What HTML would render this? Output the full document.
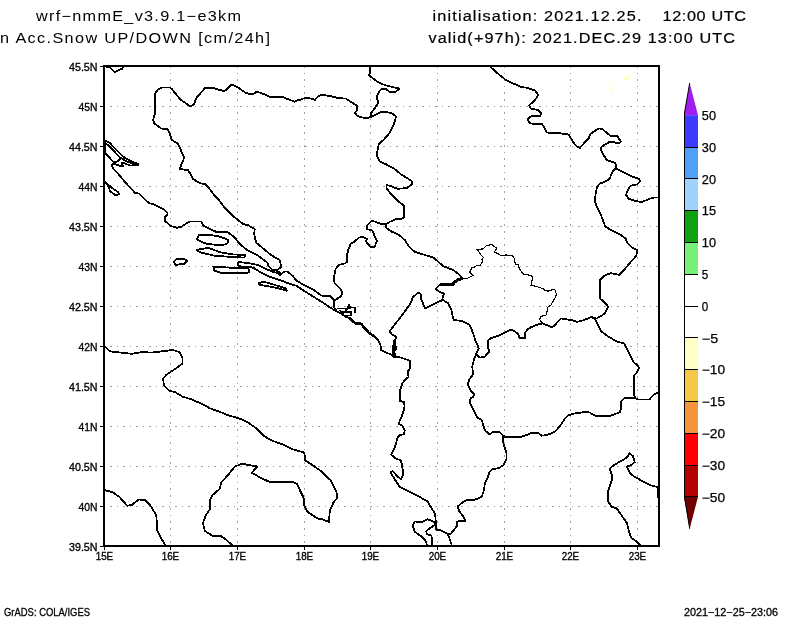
<!DOCTYPE html>
<html><head><meta charset="utf-8">
<style>
html,body{margin:0;padding:0;background:#fff;width:800px;height:618px;overflow:hidden}
svg{position:absolute;left:0;top:0;will-change:transform}
text{font-family:"Liberation Sans",sans-serif;fill:#000}
</style></head><body>
<svg width="800" height="618" viewBox="0 0 800 618">
<rect x="0" y="0" width="800" height="618" fill="#fff"/>
<!-- titles -->
<g id="titles" xml:space="preserve">
<text transform="translate(36,21) scale(1.12,1)" x="0" y="0" font-size="14.5" textLength="183.0" lengthAdjust="spacing">wrf−nmmE_v3.9.1−e3km</text>
<text transform="translate(0,43) scale(1.12,1)" x="0" y="0" font-size="14.5" textLength="241.1" lengthAdjust="spacing">n Acc.Snow UP/DOWN [cm/24h]</text>
<text transform="translate(432.5,21) scale(1.12,1)" x="0" y="0" font-size="14.5" textLength="186.6" lengthAdjust="spacing" stroke="#000" stroke-width="0.2">initialisation: 2021.12.25.</text>
<text transform="translate(662.5,21) scale(1.12,1)" x="0" y="0" font-size="14.5" textLength="74.6" lengthAdjust="spacing" stroke="#000" stroke-width="0.2">12:00 UTC</text>
<text transform="translate(428.5,43) scale(1.12,1)" x="0" y="0" font-size="14.5" textLength="273.7" lengthAdjust="spacing" stroke="#000" stroke-width="0.2">valid(+97h): 2021.DEC.29 13:00 UTC</text>
</g>
<!-- grid -->
<g id="grid" stroke="#a0a0a0" stroke-width="1" fill="none" shape-rendering="crispEdges">
<path stroke-dasharray="1.5 5" d="M110 106.5H658M110 146.5H658M110 186.5H658M110 226.5H658M110 266.5H658M110 306.5H658M110 346.5H658M110 386.5H658M110 426.5H658M110 466.5H658M110 506.5H658"/>
<path stroke-dasharray="1.5 5.1" d="M170.5 66V545M237.5 66V545M304.5 66V545M370.5 66V545M437.5 66V545M504.5 66V545M570.5 66V545M637.5 66V545"/>
</g>
<!-- map -->
<g id="map" stroke="#000" stroke-width="1.8" fill="none" stroke-linejoin="round" stroke-linecap="round" shape-rendering="crispEdges">
<!-- top-left -->
<path d="M104.5 66.2L110.4 67.8L114.9 72.3L118.8 70.1L122 68.8L123.3 66.5"/>
<!-- croatia north border, drina, montenegro -->
<path d="M171.9 140L169.3 132.5L167.4 129.3L160.9 128.4L154.4 123.5L153.1 120.2L154.7 114.4L155 94L157.6 89.8L161.5 87.5L170 87.5L171.9 89.1L180.3 99.5L188.7 105.3L190.7 106L193.9 104.7L196.5 97.6L200 93.9L205.2 87.8L212.3 87.8L218.1 89.5L224.6 91.1L231.7 84.6L237.6 87.2L245.3 92.6L248.6 93.9L253.1 93.9L257 91.7L263.5 93.9L270 96.9L282.3 96.9L288.7 99.5L294.6 101.7L297.8 99.9L300 99.9L305.2 97.8L309.7 98.2L314.9 99.9L318.1 96.3L321.4 94.7L329.8 96L338.9 98.2L346 98.6L349.2 100.8L357 105.6L357 109.9L355.1 112.8L357 115.7L361.5 117.3L367.4 118.3L370.6 117L375.1 115L381.6 111.8L391.3 112.8L395.9 116.3L395.2 120.9L392.6 126.7L389.4 133.2L383.5 140L379 143.6L377.7 148.8L376.8 155.8L379.4 161L385.9 164.2L393.6 168.1L401.4 174.6L411.7 181L411.7 184.3L406.6 188.2L397.5 188.8L391 186.2L386.5 184.9L386.5 188.2L391 194L398.8 201.7L404 205.6L404 217.3L401.4 219.2L397.5 218.6L389.8 221.8L386.2 224L381.7 224L372 220.7L366.8 225.9L366.8 229.1L372 230.4L377.1 240.8L374.6 246.6L370 246.6L366.1 241.5L366.8 238.9L362.9 236.9L359 237.6L354.5 241.5L350.6 244L348 250.5L346.7 257L347.4 261.5L344.8 263.5L338.9 264.8L335.7 268.7L334.4 275.1L333.9 277.8L334.5 283L340.4 288.8L342.3 293.3L341 296.6L335.2 299.8L334 301L334 307L336.1 309.9"/>
<!-- croatia-bosnia south-west border -->
<path d="M171.9 140L172.5 140.4L177.7 143.6L180.3 148.8L184.2 157.8L179.7 168.9L188.1 170.2L192 176.6L193.3 179.2L199.7 183.1L205.2 184.1L209.1 188.3L215.5 196.7L219.4 200.6L223.7 206.5L234 216.8L243.1 224L248.3 225.3L254.8 229.1L254.1 233.7L256.1 242.7L262.5 247.9L271 255L280 260.3L281.1 267L277.8 269.6L274 270.4"/>
<!-- drava top -->
<path d="M370 66.2L370 73L368.7 74.9L372.5 78.1L379 82.7L385.5 85.3L393.3 87.2L399.5 88.5L395.9 91.7L389.4 91.7L385.5 88.8L381.6 88.8L379 91.7L376.4 98.2L377.7 100.2L377.7 104L370.6 113.8L370.6 117"/>
<!-- romania/bulgaria-serbia -->
<path d="M490.7 67.1L500 75.5L505.2 79.4L513 83.3L520.7 86.9L527.2 87.8L535 90.4L538.2 95L535 100.2L529.1 105.3L531.1 108.6L537.6 109.9L541.5 113.1L540.2 115.7L531.1 116.3L527.8 118.9L529.1 122.8L532.4 123.7L541.5 123.7L544 126.7L546.6 132.5L555.7 133.2L559.6 133.2L568.7 134.5L572.5 141L575.8 145.5L579.7 148.1L584.2 143L588.7 138.4L590.4 133.9L594.2 131.3L598.8 128.4L602.7 129.3L610.4 135.8L617.6 136.2L620.8 141.7L618.2 143.6L614.3 142.3L609.8 141.7L601.4 146.8L600.7 148.8L604 155.9L607.2 160.4L614.3 162.4L616.3 165L615.6 168.2L613.7 170.2L611.1 174.7L609.8 178.6L605.9 181.2L599.4 183.8L596.8 187.6L595.5 194.8L594.9 201.2L596.3 205.2L600.2 213L605.3 226.6L611.8 230.4L619.6 234.3L625.4 238.2L627.4 242.7L632.5 247.9L637.1 249.9L636.4 255.7L630 262.8L624.1 270L619.3 274.9L611.2 273.2L605.5 274.9L599.9 279.7L599.9 298.3L606.3 304L608 307.2L604.7 313.7L596.6 318.5L591.8 316.9L595.8 320.2L601.5 331.5L608 336.3L616.1 341.2L624.1 343.6L629 352.5L632.5 360L634.5 363.2L637.7 365.2L639 367.8L636.4 373L633.8 375.5L633.8 393.7L635.1 397.6"/>
<path d="M615.6 168.2L624 172.7L631.8 176.6L638.9 178.6L640.2 181.2L637 184.4L630.5 185.7L628.6 188.3L626 194.8L628.6 198.7L635.7 201.2L642.2 201.9L649.9 198.7L654.5 197.4L658.4 197.4"/>
<!-- macedonia-serbia -->
<path d="M542.8 323.3L550 326.6L553.3 326.6L561 318.5L572.4 320.2L577.2 321.8L583.7 320.2L591.8 316.9"/>
<!-- kosovo-macedonia, ohrid -->
<path d="M542.8 323.3L537.7 324.5L532.5 326.5L527.4 329.1L524.8 333.6L524.8 338.1L519.6 338.1L518.3 334.2L514.4 331L511.2 329.7L505.3 332.3L498.9 335.5L491.1 338.1L487.8 340.7L487.8 345.9L489.1 351.7L484.6 356.9L479.4 357.6L476.8 355"/>
<!-- albania east border -->
<path d="M442.7 299.8L447.8 303L451.1 308.9L453 317.9L453.7 319.9L462.7 321.2L465.2 322.6L469.2 324.4L470.4 326.5L473 333L475.5 340.7L478.8 348.5L476.2 353.7L474.2 358.9L472.3 366.6L473 374.4L469.1 379.6L467.8 384.8L470.4 390L474.2 394.5L473.5 396.7L470.5 398.2L469.7 402L475 412.5L477.2 417.7L481.7 420L485 430.5L489.5 434.2L493.7 431.7L499.7 432L502.7 435L503.5 444L506.5 453L506.5 459L503.5 465L499 468L492.2 469.5L489.2 472.5L488 477L485 483L483.5 492L481.7 496.7L475 499.7L468.2 499.7L463 502L457.7 506.5L459.2 511L463 516.2L465.2 520.7L460 520.7L457 522.2L457 526L451 533.5L448 534.2"/>
<!-- greece-macedonia-bulgaria -->
<path d="M502.7 435L505 437.2L521.5 436.8L529 434.2L532 432.7L538.7 433.2L541.7 435.7L547 435L554.5 432L560 426.1L565.2 418.3L567.8 415.7L573 413.8L579.4 412.8L585.9 411.8L589.8 412.5L593.7 415L596.3 416L610.5 415.7L615.7 413.8L619.6 412.5L620.9 409.2L620.9 401.5L624.8 397.8L634.5 397.8L637.7 399.5L649.4 399.5L653.3 395L657.2 393L659 392.4"/>
<!-- montenegro-albania -->
<path d="M389.6 331.5L394.8 324.4L402.5 314.7L410.3 303.7L412.9 297.2L418.1 292.7L420.7 294L421.3 299.8L425.2 308.2L433 304.3L442 300.4L442.7 299.8"/>
<path d="M389.6 331.5L392.2 334.8L396.6 336.7L395 340"/>
<path stroke-width="1" d="M397 337L395.2 339.7L395.2 343.3L396.3 347L396.3 349.1L394.8 350.6L395.2 354.2L396.3 356.5L393.8 357.4L392.5 354.2L392.5 347L393.6 343.3L394 340.4Z" fill="#000"/>
<!-- montenegro-serbia-kosovo thick -->
<path d="M386.2 224L386.2 227.8L390.7 231.1L399.8 235.6L405 240.2L408.9 246.6L414.7 251.8L423.1 254.4L433.5 257.6L443 265.9L447.5 267.8L452.7 269.8L457.2 273L460.4 275.6L461.7 278.5L457.2 280.1L454.6 282.1L452.7 284.7L449.4 285L444.9 284.3L441 284L438.4 286L435.8 288.6L437.8 290.5L439.7 291.8L444.2 293.7L443 295.7L442.3 299.6"/>
<path stroke-width="3" d="M461.7 278.5L457.2 280.1L454.6 282.1L452.7 284.7L449.4 285L444.9 284.3L441 284"/>
<!-- coast upper -->
<path d="M104.75 140.4L107.5 141.5L109.7 142.9L121.3 155L125.1 158L130.6 160.8L133.4 162.4L137.8 163.8L138.3 164.9L130.6 165.6L126.5 164.2L123 162.3L122 162.8L122.4 164.6L122.9 166.2L119.6 165.7L115.2 164.3L113 163.5L111.9 164.6L111.9 166L114.1 169.6L118.8 174.5L125.9 183.1L135 192.8L138.9 193.5L145.3 200L149.2 203.2L154.4 204.5L163.5 209.1L167.4 213L167.4 214.9L164.8 216.8L164.8 220.7L170.6 225.9L177.1 227.8L181.6 226.6L185.5 224L190.7 221.4L201 221.4L203 225.3L215.9 231.7L228.2 232.4L234 236.9L240.5 244.7L247 249.9L256.2 254.4L267.3 262.5L268.8 266.3L272.5 270L277 270.8L281.5 273.8L284.5 271.5L287.5 271.5L293 276.2L296.6 280.7L304.4 285.3L313.5 289.8L321.2 295.6L330.3 296L332.9 298.9L334 301"/>
<path d="M105 144L108 144.8L119.5 157L124.5 160.2L133 164"/>
<path d="M105.5 141L105.5 154"/>
<path d="M119.5 157L120 159.5L116.9 161.6L113 161.6L105.9 153.6"/>
<!-- peljesac north -->
<path d="M238.4 262.1L247 262.9L257.5 264.8L264.3 268.1L271 271.1L277 273L280 274.9"/>
<!-- coast lower (dubrovnik -> albania -> greece) -->
<path d="M238.4 262.1L237.6 264.8L239.5 266.3L250 267L253.8 268.1L260.5 272.3L269.5 276.8L280 280.1L289 283.5L296.6 285.9L304.4 291.1L314.8 297.6L325.1 304L330 307.5L334 310L338.1 311.8L343 315L345.5 316.6L349.4 317.9L353.3 321.8L355.9 323.4L361.1 323.8L363.7 327L368.9 332.8L374 336.1L377.9 339.9L380.5 345.1L381.2 350L383.9 351.7L390.4 354.2L394.2 356.8L400.7 357.5L409.8 360.7L409.8 368.5L407.8 371.7L408.5 376.9L405.9 378.9L402.7 382.7L400.1 389.9L400.1 400.9L404 402.2L404.6 406.7L402.7 413.8L400.1 420L398.7 423.7L402.5 426L404.7 430.5L404 434.2L399.5 435L397.2 438.7L395 447L391.2 454.5L395 458.2L401 460.5L402.5 468L403.2 474L401 479.2L398 477L392.7 471L390.5 472.5L394.2 478.5L399.5 486.7L407 490.5L417.5 495.7L428 501.7L430 505.7L435.2 514L436 526L436 529.7L439.7 529.7L448 534.2L451.7 545"/>
<!-- kotor -->
<path stroke-width="1.8" d="M338 308.5L350.5 308.5M347.5 309L349 304.5L350.5 308M351 307.5L355 307.5L355 312.5M341.5 312L351 312L351 315.5L344 315.5L340 310.5M346 309L346 312"/>
<path stroke-width="2.6" d="M349.4 317.9L353.3 321.8L355.9 323.4L361.1 323.8L363.7 327L368.9 332.8L374 336.1L377.9 339.9"/>
<!-- islands -->
<path d="M105.2 181.8L109.1 187.6L109.7 190.9L115.5 195.4L118.8 194.1L118.1 192.2L111.7 187.6L107.8 184.4Z"/>
<path d="M173.6 261.7L176.8 258.8L184.6 259.1L187.2 261L184.6 263.6L175.5 264.9Z"/>
<path d="M199.1 235L209.4 234.7L221.1 236.9L228.2 240.2L227.6 243.4L222.4 245.3L206.8 244L196.5 239.5Z"/>
<path d="M196.5 249.9L208.1 247.9L221.1 252.5L232.7 254.4L245.1 255L244.4 257.6L232.7 257L214.6 255.7L200.4 252.5Z"/>
<path d="M213.3 266.7L221.1 267.1L232 267.8L247 267.8L249.6 270L248.5 272.6L232 273L222.4 273.2L214 270.6Z"/>
<path d="M258.9 283.2L263.2 281.5L273.7 284.6L286 288.5L286.9 290.7L279 288.5L266.7 285.9L259.7 285Z"/>
<!-- corfu -->
<path d="M427.7 519.2L421 522.2L415 521.5L412.7 526L415 532L422.5 537.2L426.2 541.7L427 545.5"/>
<path d="M427.7 519.2L434.5 522.2L434.5 525.2L427.7 529.7L426.2 531.2L427 534.2L431.5 535.7L432.2 545.5"/>
<!-- italy -->
<path d="M104 345.7L109.7 351.3L121 352.6L131.6 353.8L142.1 352.1L151.8 352.6L164.7 351L172.8 350L179.3 352.1L182.5 357.8L182.5 363.5L176.1 368.3L171.2 371.6L166.3 374.8L163.1 378.8L163.9 385.3L169.6 391L174.4 391.8L182.5 396.6L190.6 399.1L200.3 403.1L210 408.3L220.7 412.2L229.6 415.8L238.5 418.1L247.4 422L256.3 428.3L264.3 436.3L272.3 440.7L284.7 445.2L293.6 449.6L304.3 452.6L305.2 460.3L313.2 465.6L322.1 471.9L331 480.7L336.3 491.4L337.6 497.5L333.3 502.8L329.8 510.6L328.9 522L322.8 519.4L317.5 518.5L307 511.5L304.4 505.4L303.5 497.5L300 490.5L297.2 484.3L291.9 481.6L268.7 481.6L258 476.3L251.8 472.7L257.2 466.5L242 463.8L234.9 466.5L228.2 474.7L221.4 482.4L219.4 489.2L212.6 495L209.7 500.9L209.7 509.6L205.8 515.4L202.9 523.2L204.9 531L212.6 535.8L220.4 535.8L226.2 539.7L232 545"/>
<path d="M104.9 490.2L112.6 492.1L119.4 497L127.2 505.7L132 504.8L138.8 499.5L144.7 499.9L150.5 505.7L156.3 515.4L157.3 531L165 545"/>
<path d="M657.5 487L657.5 497"/>
<!-- greek coast -->
<path d="M659 487.2L650.7 485.4L641.9 480.9L631.2 474.7L627.6 468.5L626.7 466.7L631.2 464.9L634.7 462.2L633 456L629.4 453.3L626.7 457.8L618.7 462.2L611.6 466.7L609.8 469.4L611.6 473.8L611.6 480.9L608 491.6L608 501.4L611.6 506.7L616.9 508.5L622.3 516.5L626.7 522.7L629.4 532.5L631.2 537.9L636.5 541.4L640.1 545"/>
</g>
<!-- kosovo thin -->
<path stroke="#000" stroke-width="1.2" fill="none" shape-rendering="crispEdges" d="M461.7 278.5L466.5 278.8L470 277L473.4 275.2L471 273.5L469.6 271.9L471.9 268L474 267.5L476.5 265.7L480.3 265L482.6 261.9L482 259.5L483.4 257.3L480.3 254.2L478 250.4L477.3 249.6L483.4 248.8L485.7 246.1L491.9 244.5L496.5 248.1L495.7 250.4L494.2 251.9L497.2 253.4L500 255L502.6 255.7L506 255L509.5 255.7L512 255.5L514.1 258L514.5 261L515.7 264.2L518.7 265L519 268L521 271.1L523.4 274.2L527 274.5L532.6 276.5L532 281L531 285.7L535 286L538.7 287.2L543.3 288.8L545 290.5L547.9 291.1L551 290L554.8 289.5L556.4 294.1L555.5 297L554.1 299.5L551 304.9L548 307L547.2 310.3L546.4 314.9L541 316.4L539.5 319.5L542.6 323.3"/>
<!-- yellow blobs -->
<path fill="#ffffc8" d="M622 78.2L626 76.8L628 75L630.5 75.2L631 77L628 80.5L623 80.8Z M609 82L611 80.8L612.2 82.8L610.5 85Z M610 86.8L611.8 87.8L613.2 89.5L611.5 90.8L610.2 89.5Z"/>
<!-- frame -->
<rect x="104" y="66" width="555" height="480" fill="none" stroke="#000" stroke-width="2"/>
<g stroke="#000" stroke-width="1">
<path d="M100 66.5H103M100 106.5H103M100 146.5H103M100 186.5H103M100 226.5H103M100 266.5H103M100 306.5H103M100 346.5H103M100 386.5H103M100 426.5H103M100 466.5H103M100 506.5H103M100 546.5H103"/>
<path d="M104.5 547V550M170.5 547V550M237.5 547V550M304.5 547V550M370.5 547V550M437.5 547V550M504.5 547V550M570.5 547V550M637.5 547V550"/>
</g>
<g id="ylabels" font-size="11.8" stroke="#000" stroke-width="0.35" text-anchor="start">
<text x="69.0" y="70.6" textLength="28.5" lengthAdjust="spacingAndGlyphs">45.5N</text>
<text x="78.5" y="110.6" textLength="19" lengthAdjust="spacingAndGlyphs">45N</text>
<text x="69.0" y="150.6" textLength="28.5" lengthAdjust="spacingAndGlyphs">44.5N</text>
<text x="78.5" y="190.6" textLength="19" lengthAdjust="spacingAndGlyphs">44N</text>
<text x="69.0" y="230.6" textLength="28.5" lengthAdjust="spacingAndGlyphs">43.5N</text>
<text x="78.5" y="270.6" textLength="19" lengthAdjust="spacingAndGlyphs">43N</text>
<text x="69.0" y="310.6" textLength="28.5" lengthAdjust="spacingAndGlyphs">42.5N</text>
<text x="78.5" y="350.6" textLength="19" lengthAdjust="spacingAndGlyphs">42N</text>
<text x="69.0" y="390.6" textLength="28.5" lengthAdjust="spacingAndGlyphs">41.5N</text>
<text x="78.5" y="430.6" textLength="19" lengthAdjust="spacingAndGlyphs">41N</text>
<text x="69.0" y="470.6" textLength="28.5" lengthAdjust="spacingAndGlyphs">40.5N</text>
<text x="78.5" y="510.6" textLength="19" lengthAdjust="spacingAndGlyphs">40N</text>
<text x="69.0" y="550.6" textLength="28.5" lengthAdjust="spacingAndGlyphs">39.5N</text>
</g>
<g id="xlabels" font-size="11.3" stroke="#000" stroke-width="0.35">
<text x="95.7" y="559.8" textLength="17.5" lengthAdjust="spacingAndGlyphs">15E</text>
<text x="161.7" y="559.8" textLength="17.5" lengthAdjust="spacingAndGlyphs">16E</text>
<text x="228.7" y="559.8" textLength="17.5" lengthAdjust="spacingAndGlyphs">17E</text>
<text x="295.7" y="559.8" textLength="17.5" lengthAdjust="spacingAndGlyphs">18E</text>
<text x="361.7" y="559.8" textLength="17.5" lengthAdjust="spacingAndGlyphs">19E</text>
<text x="428.7" y="559.8" textLength="17.5" lengthAdjust="spacingAndGlyphs">20E</text>
<text x="495.7" y="559.8" textLength="17.5" lengthAdjust="spacingAndGlyphs">21E</text>
<text x="561.7" y="559.8" textLength="17.5" lengthAdjust="spacingAndGlyphs">22E</text>
<text x="628.7" y="559.8" textLength="17.5" lengthAdjust="spacingAndGlyphs">23E</text>
</g>
<!-- colorbar -->
<g id="cbar">
<path d="M684 115.2L689.7 83L698 115.2Z" fill="#a01ef0"/>
<rect x="684" y="115.2" width="14" height="31.8" fill="#3c3cff"/>
<rect x="684" y="147.0" width="14" height="31.8" fill="#50a0f5"/>
<rect x="684" y="178.8" width="14" height="31.8" fill="#a0d2fa"/>
<rect x="684" y="210.6" width="14" height="31.8" fill="#10a010"/>
<rect x="684" y="242.4" width="14" height="31.8" fill="#78f078"/>
<rect x="684" y="337.8" width="14" height="31.8" fill="#ffffc8"/>
<rect x="684" y="369.6" width="14" height="31.8" fill="#f5c846"/>
<rect x="684" y="401.4" width="14" height="31.8" fill="#f5963c"/>
<rect x="684" y="433.2" width="14" height="31.8" fill="#ff0000"/>
<rect x="684" y="465.0" width="14" height="31.8" fill="#b40000"/>
<path d="M684 496.8L689.7 528.8L698 496.8Z" fill="#700000"/>
<g stroke="#000" stroke-width="1" fill="none" shape-rendering="crispEdges">
<path d="M684.5 113V496.8"/>
<path d="M684 147.5H698M684 178.5H698M684 210.5H698M684 242.5H698M684 274.5H698M684 306.5H698M684 337.5H698M684 369.5H698M684 401.5H698M684 433.5H698M684 465.5H698M684 496.5H698"/>
</g>
<path d="M684.5 113L689.7 83M684.5 496.8L689.7 528.8" stroke="#000" stroke-width="1" fill="none"/>
<g font-size="12" stroke="#000" stroke-width="0.25">
<text x="701.8" y="120.0" textLength="14.2" lengthAdjust="spacingAndGlyphs">50</text>
<text x="701.8" y="151.8" textLength="14.2" lengthAdjust="spacingAndGlyphs">30</text>
<text x="701.8" y="183.6" textLength="14.2" lengthAdjust="spacingAndGlyphs">20</text>
<text x="701.8" y="215.4" textLength="14.2" lengthAdjust="spacingAndGlyphs">15</text>
<text x="701.8" y="247.2" textLength="14.2" lengthAdjust="spacingAndGlyphs">10</text>
<text x="701.8" y="279.0" textLength="6.5" lengthAdjust="spacingAndGlyphs">5</text>
<text x="701.8" y="310.8" textLength="6.5" lengthAdjust="spacingAndGlyphs">0</text>
<text x="701.8" y="342.6" textLength="16.3" lengthAdjust="spacingAndGlyphs">−5</text>
<text x="701.8" y="374.4" textLength="23.3" lengthAdjust="spacingAndGlyphs">−10</text>
<text x="701.8" y="406.2" textLength="23.3" lengthAdjust="spacingAndGlyphs">−15</text>
<text x="701.8" y="438.0" textLength="23.3" lengthAdjust="spacingAndGlyphs">−20</text>
<text x="701.8" y="469.8" textLength="23.3" lengthAdjust="spacingAndGlyphs">−30</text>
<text x="701.8" y="501.6" textLength="23.3" lengthAdjust="spacingAndGlyphs">−50</text>
</g>
</g>
<!-- footer -->
<text x="4" y="615.5" font-size="10.8" stroke="#000" stroke-width="0.3" textLength="86" lengthAdjust="spacingAndGlyphs">GrADS: COLA/IGES</text>
<text x="684" y="615.5" font-size="10.8" stroke="#000" stroke-width="0.3" textLength="94" lengthAdjust="spacingAndGlyphs">2021−12−25−23:06</text>
</svg>
</body></html>
